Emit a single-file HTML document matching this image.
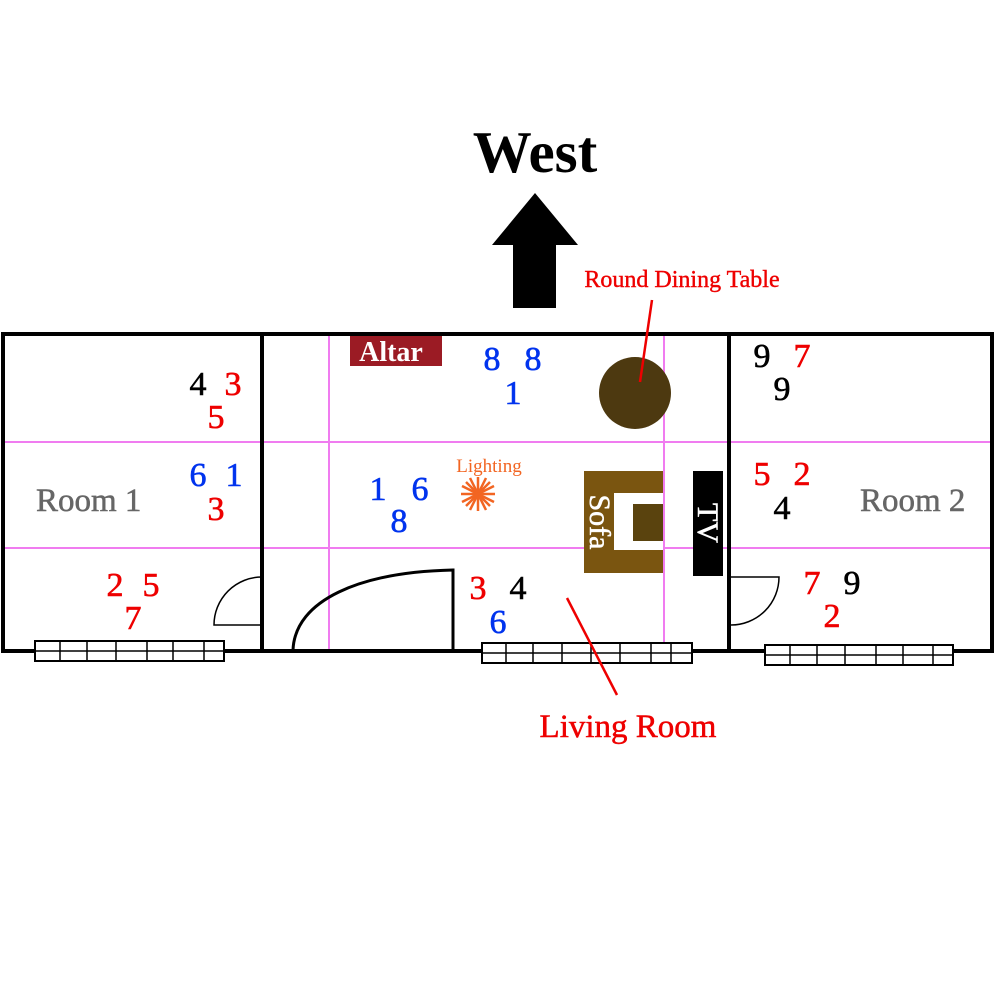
<!DOCTYPE html>
<html><head><style>html,body{margin:0;padding:0;background:#fff}svg{display:block}</style></head>
<body>
<svg width="1000" height="1000" viewBox="0 0 1000 1000" xmlns="http://www.w3.org/2000/svg" font-family="'Liberation Serif', serif">
<rect width="1000" height="1000" fill="#fff"/>
<text x="535" y="172" font-size="59" font-weight="bold" text-anchor="middle">West</text>
<polygon points="492,245 535,193 578,245 556,245 556,308 513,308 513,245" fill="#000"/>
<text x="682" y="287" font-size="24" fill="#e00" text-anchor="middle" stroke="#e00" stroke-width="0.4">Round Dining Table</text>
<g stroke="#f07cf0" stroke-width="2">
<line x1="3" y1="442" x2="992" y2="442"/>
<line x1="3" y1="548" x2="992" y2="548"/>
<line x1="329" y1="333" x2="329" y2="653"/>
<line x1="664" y1="333" x2="664" y2="653"/>
</g>
<rect x="3" y="334" width="989" height="317" fill="none" stroke="#000" stroke-width="4"/>
<line x1="262" y1="334" x2="262" y2="651" stroke="#000" stroke-width="4"/>
<line x1="729" y1="334" x2="729" y2="651" stroke="#000" stroke-width="4"/>
<g fill="none" stroke="#000">
<path d="M262,625 L214,625 A48,48 0 0 1 262,577" stroke-width="1.5"/>
<path d="M293,650 C295,600 360,572 453,570 L453,650" stroke-width="3"/>
<path d="M731,577 L779,577 A48,48 0 0 1 731,625" stroke-width="1.5"/>
</g>
<g fill="#fff" stroke="#000" stroke-width="2">
<rect x="35" y="641" width="189" height="20"/>
<rect x="482" y="643" width="210" height="20"/>
<rect x="765" y="645" width="188" height="20"/>
</g>
<g stroke="#000" stroke-width="1.5">
<line x1="35" y1="651" x2="224" y2="651"/>
<line x1="482" y1="653" x2="692" y2="653"/>
<line x1="765" y1="655" x2="953" y2="655"/>
<line x1="60" y1="641" x2="60" y2="661"/><line x1="87" y1="641" x2="87" y2="661"/><line x1="116" y1="641" x2="116" y2="661"/><line x1="147" y1="641" x2="147" y2="661"/><line x1="173" y1="641" x2="173" y2="661"/><line x1="204" y1="641" x2="204" y2="661"/>
<line x1="506" y1="643" x2="506" y2="663"/><line x1="533" y1="643" x2="533" y2="663"/><line x1="562" y1="643" x2="562" y2="663"/><line x1="620" y1="643" x2="620" y2="663"/><line x1="651" y1="643" x2="651" y2="663"/><line x1="671" y1="643" x2="671" y2="663"/><line x1="591" y1="643" x2="591" y2="663"/>
<line x1="790" y1="645" x2="790" y2="665"/><line x1="817" y1="645" x2="817" y2="665"/><line x1="845" y1="645" x2="845" y2="665"/><line x1="876" y1="645" x2="876" y2="665"/><line x1="903" y1="645" x2="903" y2="665"/><line x1="933" y1="645" x2="933" y2="665"/>
</g>
<rect x="350" y="336" width="92" height="30" fill="#9b1b24"/>
<text x="391" y="361" font-size="28" font-weight="bold" fill="#fff" text-anchor="middle">Altar</text>
<circle cx="635" cy="393" r="36" fill="#4d3910"/>
<rect x="584" y="471" width="79" height="102" fill="#7a5510"/>
<rect x="614" y="493" width="49" height="57" fill="#fff"/>
<rect x="633" y="504" width="30" height="37" fill="#5a430e"/>
<text transform="translate(590,522) rotate(90)" font-size="30" fill="#fff" text-anchor="middle" stroke="#fff" stroke-width="0.5">Sofa</text>
<rect x="693" y="471" width="30" height="105" fill="#000"/>
<text transform="translate(698,523) rotate(90)" font-size="30" fill="#fff" text-anchor="middle" stroke="#fff" stroke-width="0.5">TV</text>
<text x="489" y="472" font-size="19" fill="#f26522" text-anchor="middle">Lighting</text>
<g stroke="#f26522" stroke-width="2.5">
<line x1="461" y1="494" x2="495" y2="494"/><line x1="478" y1="477" x2="478" y2="511"/>
<line x1="466" y1="482" x2="490" y2="506"/><line x1="490" y1="482" x2="466" y2="506"/>
<line x1="470" y1="478" x2="486" y2="510"/><line x1="486" y1="478" x2="470" y2="510"/>
<line x1="462" y1="486" x2="494" y2="502"/><line x1="494" y1="486" x2="462" y2="502"/>
</g>
<line x1="652" y1="300" x2="640" y2="382" stroke="#e00" stroke-width="2.5"/>
<line x1="567" y1="598" x2="617" y2="695" stroke="#e00" stroke-width="2.5"/>
<text x="628" y="737" font-size="33" fill="#e00" text-anchor="middle" stroke="#e00" stroke-width="0.5">Living Room</text>
<text x="36" y="511" font-size="33" fill="#666" stroke="#666" stroke-width="0.5">Room 1</text>
<text x="860" y="511" font-size="33" fill="#666" stroke="#666" stroke-width="0.5">Room 2</text>
<g font-size="34" text-anchor="middle" stroke-width="0.6">
<text x="198" y="395" fill="#000" stroke="#000">4</text><text x="233" y="395" fill="#e00" stroke="#e00">3</text><text x="216" y="428" fill="#e00" stroke="#e00">5</text>
<text x="198" y="486" fill="#0033ee" stroke="#0033ee">6</text><text x="234" y="486" fill="#0033ee" stroke="#0033ee">1</text><text x="216" y="520" fill="#e00" stroke="#e00">3</text>
<text x="115" y="596" fill="#e00" stroke="#e00">2</text><text x="151" y="596" fill="#e00" stroke="#e00">5</text><text x="133" y="629" fill="#e00" stroke="#e00">7</text>
<text x="492" y="370" fill="#0033ee" stroke="#0033ee">8</text><text x="533" y="370" fill="#0033ee" stroke="#0033ee">8</text><text x="513" y="404" fill="#0033ee" stroke="#0033ee">1</text>
<text x="378" y="500" fill="#0033ee" stroke="#0033ee">1</text><text x="420" y="500" fill="#0033ee" stroke="#0033ee">6</text><text x="399" y="532" fill="#0033ee" stroke="#0033ee">8</text>
<text x="478" y="599" fill="#e00" stroke="#e00">3</text><text x="518" y="599" fill="#000" stroke="#000">4</text><text x="498" y="633" fill="#0033ee" stroke="#0033ee">6</text>
<text x="762" y="367" fill="#000" stroke="#000">9</text><text x="802" y="367" fill="#e00" stroke="#e00">7</text><text x="782" y="400" fill="#000" stroke="#000">9</text>
<text x="762" y="485" fill="#e00" stroke="#e00">5</text><text x="802" y="485" fill="#e00" stroke="#e00">2</text><text x="782" y="519" fill="#000" stroke="#000">4</text>
<text x="812" y="594" fill="#e00" stroke="#e00">7</text><text x="852" y="594" fill="#000" stroke="#000">9</text><text x="832" y="627" fill="#e00" stroke="#e00">2</text>
</g>
</svg>
</body></html>
